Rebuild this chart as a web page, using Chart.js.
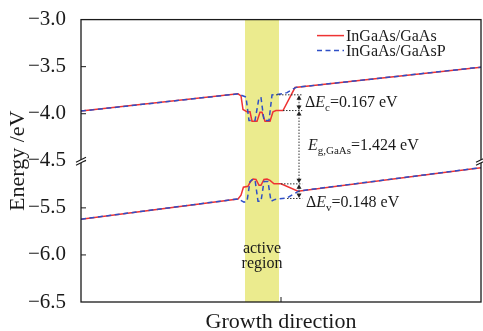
<!DOCTYPE html>
<html>
<head>
<meta charset="utf-8">
<script src="https://cdn.jsdelivr.net/npm/chart.js@4.4.1/dist/chart.umd.min.js"></script>
<style>
  html, body { margin: 0; padding: 0; background: #fff; }
</style>
</head>
<body>
<canvas id="bandChart" width="483" height="331"></canvas>
<script>
const seriesNames = ['InGaAs/GaAs', 'InGaAs/GaAsP'];
const seriesColors = ['#ee3333', '#2f4fc6'];

// conduction band, upper part of the broken axis (x = growth position, a.u.)
const cbGaAsX = [0, 39.25, 40, 40.5, 41.5, 42.25, 42.75, 44, 44.75, 45.25, 46, 47.25, 48, 48.75, 50.5, 53.5, 100];
const cbGaAsE = [-3.972, -3.789, -3.81, -3.955, -3.98, -3.98, -4.08, -4.08, -3.985, -3.985, -4.08, -4.08, -3.98, -3.966, -3.966, -3.722, -3.505];
const cbGaAsPX = [0, 39.25, 41.25, 42, 43.5, 44.5, 45, 45.75, 47, 47.75, 48.75, 51.5, 53.75, 100];
const cbGaAsPE = [-3.972, -3.789, -3.823, -4.073, -4.073, -3.83, -3.83, -4.073, -4.073, -3.80, -3.799, -3.776, -3.72, -3.505];

// valence band, lower part
const vbGaAsX = [0, 39.25, 40, 40.6, 41.75, 42.25, 43, 43.75, 44.5, 45, 45.75, 46.5, 47.25, 48.25, 50, 54.25, 100];
const vbGaAsE = [-5.62, -5.405, -5.365, -5.281, -5.271, -5.229, -5.194, -5.198, -5.26, -5.26, -5.198, -5.194, -5.208, -5.245, -5.245, -5.323, -5.073];
const vbGaAsPX = [0, 39.25, 40.75, 41.5, 42.25, 42.75, 43.5, 44.25, 45, 45.75, 46.75, 47.5, 48.5, 51.5, 54.5, 100];
const vbGaAsPE = [-5.62, -5.405, -5.44, -5.43, -5.22, -5.2, -5.2, -5.43, -5.43, -5.22, -5.22, -5.43, -5.41, -5.395, -5.32, -5.073];

const topTicks = [-3.0, -3.5, -4.0, -4.5];
const bottomTicks = [-5.5, -6.0, -6.5];
const xTicks = [50];
const activeRegion = [41, 49.5];

// barrier levels marked with the dotted guides
const cbLevels = [-3.799, -3.966];
const vbLevels = [-5.245, -5.40];
const levelStart = [48.75, 50.5, 50, 51.5];
const markerX = 54.5;
const levelEnd = 55.3;
const gapValues = ['0.167', '1.424', '0.148'];
const labelX = [56, 56.75, 56.25];
const labelE = [-3.865, -4.323, -5.4375];

const serif = '"Liberation Serif", "Times New Roman", serif';
const ink = '#1a1a1a';

function pts(xs, es) {
    return xs.map((x, i) => ({ x: x, y: es[i] }));
}

function fmt(v) {
    return (v < 0 ? '\u2212' : '') + Math.abs(v).toFixed(1);
}

function drawRuns(ctx, x, y, runs) {
    runs.forEach(r => {
        ctx.font = r.font;
        ctx.fillText(r.t, x, y + (r.dy || 0));
        x += ctx.measureText(r.t).width;
    });
}

function arrowHead(ctx, x, y, dir) {
    ctx.beginPath();
    ctx.moveTo(x, y);
    ctx.lineTo(x - 2.5, y - dir * 4.5);
    ctx.lineTo(x + 2.5, y - dir * 4.5);
    ctx.closePath();
    ctx.fill();
}

function breakMark(ctx, x, y) {
    ctx.save();
    ctx.fillStyle = '#fff';
    ctx.beginPath();
    ctx.moveTo(x - 5, y + 1.5);
    ctx.lineTo(x + 5, y - 3.5);
    ctx.lineTo(x + 5, y - 0.5);
    ctx.lineTo(x - 5, y + 4.5);
    ctx.closePath();
    ctx.fill();
    ctx.strokeStyle = ink;
    ctx.lineWidth = 1.1;
    ctx.beginPath();
    ctx.moveTo(x - 5, y + 1.5); ctx.lineTo(x + 5, y - 3.5);
    ctx.moveTo(x - 5, y + 4.5); ctx.lineTo(x + 5, y - 0.5);
    ctx.stroke();
    ctx.restore();
}

const bandDecor = {
    id: 'bandDecor',
    beforeDatasetsDraw(chart) {
        const { ctx, chartArea: a, scales: { x } } = chart;
        const x0 = x.getPixelForValue(activeRegion[0]);
        const x1 = x.getPixelForValue(activeRegion[1]);
        ctx.save();
        ctx.fillStyle = '#ebeb8e';
        ctx.fillRect(x0, a.top, x1 - x0, a.bottom - a.top);
        ctx.restore();
    },
    afterDatasetsDraw(chart) {
        const { ctx, chartArea: a, scales: { x, yTop, yBot } } = chart;
        const X = v => x.getPixelForValue(v);
        ctx.save();

        // frame and inward ticks
        ctx.strokeStyle = ink;
        ctx.lineWidth = 1.3;
        ctx.strokeRect(a.left, a.top, a.right - a.left, a.bottom - a.top);
        ctx.lineWidth = 1;
        ctx.beginPath();
        [yTop, yBot].forEach(s => s.ticks.forEach(t => {
            const py = s.getPixelForValue(t.value);
            if (py > a.top + 1 && py < a.bottom - 1) { ctx.moveTo(a.left, py); ctx.lineTo(a.left + 5, py); }
        }));
        x.ticks.forEach(t => {
            const px = X(t.value);
            ctx.moveTo(px, a.bottom); ctx.lineTo(px, a.bottom - 5);
        });
        ctx.stroke();

        // axis break
        breakMark(ctx, a.left, yTop.bottom);
        breakMark(ctx, a.right, yTop.bottom);

        // dotted guides and arrows
        const levels = [[yTop, cbLevels[0]], [yTop, cbLevels[1]], [yBot, vbLevels[0]], [yBot, vbLevels[1]]];
        const ys = levels.map(l => l[0].getPixelForValue(l[1]));
        ctx.strokeStyle = '#333';
        ctx.fillStyle = '#222';
        ctx.lineWidth = 1;
        ctx.setLineDash([1.5, 1.5]);
        ys.forEach((py, i) => {
            ctx.beginPath();
            ctx.moveTo(X(levelStart[i]), py);
            ctx.lineTo(X(levelEnd), py);
            ctx.stroke();
        });
        const xm = X(markerX);
        for (let i = 0; i < 3; i++) {
            ctx.setLineDash([1.5, 1.5]);
            ctx.beginPath();
            ctx.moveTo(xm, ys[i] + 4);
            ctx.lineTo(xm, ys[i + 1] - 4);
            ctx.stroke();
            ctx.setLineDash([]);
            arrowHead(ctx, xm, ys[i] + 0.5, -1);
            arrowHead(ctx, xm, ys[i + 1] - 0.5, 1);
        }

        // gap labels
        ctx.fillStyle = ink;
        ctx.textBaseline = 'alphabetic';
        ctx.textAlign = 'left';
        const axesFor = [yTop, yTop, yBot];
        const big = '16px ' + serif, it = 'italic 16px ' + serif, sub = '11px ' + serif;
        const subs = ['c', 'g,GaAs', 'v'];
        labelX.forEach((lx, i) => {
            const bx = X(lx), by = axesFor[i].getPixelForValue(labelE[i]) + 5.5;
            const runs = [];
            if (i !== 1) runs.push({ t: '\u0394', font: big });
            runs.push({ t: 'E', font: it });
            runs.push({ t: subs[i], font: sub, dy: 4 });
            runs.push({ t: '=' + gapValues[i] + ' eV', font: big });
            drawRuns(ctx, bx, by, runs);
        });

        // active region label
        ctx.textAlign = 'center';
        ctx.textBaseline = 'middle';
        ctx.font = '16px ' + serif;
        const cx = X((activeRegion[0] + activeRegion[1]) / 2);
        ctx.fillText('active', cx, yBot.getPixelForValue(-5.9375));
        ctx.fillText('region', cx, yBot.getPixelForValue(-6.094));

        // legend
        ctx.textAlign = 'left';
        ctx.font = '16px ' + serif;
        seriesNames.forEach((name, i) => {
            const ly = a.top + 16 + i * 15;
            const lx = a.right - 164;
            ctx.strokeStyle = seriesColors[i];
            ctx.lineWidth = 1.5;
            ctx.setLineDash(i === 1 ? [5, 3.5] : []);
            ctx.beginPath();
            ctx.moveTo(lx, ly);
            ctx.lineTo(lx + 27, ly);
            ctx.stroke();
            ctx.fillText(name, lx + 29, ly + 1);
        });
        ctx.setLineDash([]);

        // y axis title
        ctx.translate(24, (a.top + a.bottom) / 2);
        ctx.rotate(-Math.PI / 2);
        ctx.textAlign = 'center';
        ctx.textBaseline = 'alphabetic';
        ctx.font = '22px ' + serif;
        ctx.fillText('Energy /eV', 0, 0);
        ctx.restore();
    }
};

const lineStyle = { borderWidth: 1.5, pointRadius: 0, fill: false, tension: 0 };
const tickFont = { family: serif, size: 21 };

new Chart(document.getElementById('bandChart').getContext('2d'), {
    type: 'line',
    data: {
        datasets: [
            Object.assign({ label: seriesNames[0], data: pts(cbGaAsX, cbGaAsE), yAxisID: 'yTop', borderColor: seriesColors[0], order: 1 }, lineStyle),
            Object.assign({ label: seriesNames[1], data: pts(cbGaAsPX, cbGaAsPE), yAxisID: 'yTop', borderColor: seriesColors[1], borderDash: [5, 3.5], order: 0 }, lineStyle),
            Object.assign({ label: seriesNames[0], data: pts(vbGaAsX, vbGaAsE), yAxisID: 'yBot', borderColor: seriesColors[0], order: 1 }, lineStyle),
            Object.assign({ label: seriesNames[1], data: pts(vbGaAsPX, vbGaAsPE), yAxisID: 'yBot', borderColor: seriesColors[1], borderDash: [5, 3.5], order: 0 }, lineStyle)
        ]
    },
    options: {
        responsive: false,
        animation: false,
        layout: { padding: { top: 14, right: 2, left: 0, bottom: 0 } },
        plugins: {
            legend: { display: false },
            tooltip: { enabled: false }
        },
        scales: {
            x: {
                type: 'linear',
                min: 0,
                max: 100,
                grid: { display: false },
                border: { display: false },
                ticks: { display: false },
                afterBuildTicks: s => { s.ticks = xTicks.map(v => ({ value: v })); },
                afterFit: s => { s.height = 29; },
                title: {
                    display: true,
                    text: 'Growth direction',
                    color: ink,
                    padding: 0,
                    font: { family: serif, size: 22, lineHeight: 0.8 }
                }
            },
            yTop: {
                type: 'linear',
                position: 'left',
                stack: 'energy',
                stackWeight: 1,
                weight: 2,
                min: -4.5,
                max: -3.0,
                grid: { display: false },
                border: { display: false },
                afterBuildTicks: s => { s.ticks = topTicks.map(v => ({ value: v })); },
                afterFit: s => { s.width = 81; },
                ticks: { autoSkip: false, color: ink, padding: 7, font: tickFont, callback: v => fmt(v) }
            },
            yBot: {
                type: 'linear',
                position: 'left',
                stack: 'energy',
                stackWeight: 1,
                weight: 1,
                min: -6.5,
                max: -5.0,
                grid: { display: false },
                border: { display: false },
                afterBuildTicks: s => { s.ticks = bottomTicks.map(v => ({ value: v })); },
                afterFit: s => { s.width = 81; },
                ticks: { autoSkip: false, color: ink, padding: 7, font: tickFont, callback: v => fmt(v) }
            }
        }
    },
    plugins: [bandDecor]
});
</script>
</body>
</html>
